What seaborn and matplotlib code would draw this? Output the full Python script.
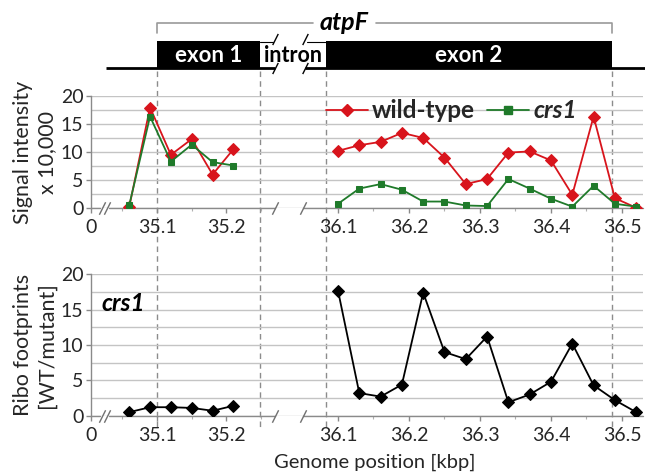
import numpy as np
import pandas as pd
import matplotlib
matplotlib.use("Agg")
import matplotlib.pyplot as plt
import seaborn as sns
from matplotlib.lines import Line2D
from matplotlib.patches import Rectangle
from matplotlib import transforms as mtrans
from matplotlib.ticker import MultipleLocator, FixedLocator

# ---------------- data ----------------
left_pos = [35.06, 35.09, 35.12, 35.15, 35.18, 35.21]
right_pos = [36.10, 36.13, 36.16, 36.19, 36.22, 36.25, 36.28, 36.31,
             36.34, 36.37, 36.40, 36.43, 36.46, 36.49, 36.52]

wt_left = [0.2, 17.9, 9.5, 12.3, 6.0, 10.5]
crs1_left = [0.5, 16.3, 8.3, 11.3, 8.2, 7.6]
wt_right = [10.2, 11.2, 11.8, 13.4, 12.5, 9.0, 4.3, 5.2, 9.9, 10.1, 8.5, 2.4, 16.3, 1.8, 0.1]
crs1_right = [0.8, 3.5, 4.3, 3.3, 1.2, 1.2, 0.5, 0.4, 5.2, 3.5, 1.7, 0.3, 4.0, 0.8, 0.3]

ribo_left = [0.5, 1.2, 1.2, 1.1, 0.7, 1.4]
ribo_right = [17.7, 3.2, 2.7, 4.4, 17.4, 9.0, 8.0, 11.2, 1.9, 3.0, 4.8, 10.2, 4.3, 2.2, 0.5]

x_ticks = [0, 35.1, 35.2, 36.1, 36.2, 36.3, 36.4, 36.5]
x_ticklabels = ["0", "35.1", "35.2", "36.1", "36.2", "36.3", "36.4", "36.5"]
x_minor = [35.05, 35.15, 35.25, 36.15, 36.25, 36.35, 36.45]
y_ticks = [0, 5, 10, 15, 20]

# gene model (kbp)
exon1 = (35.100, 35.248)
exon2 = (36.083, 36.486)

rows = []
for seg, pos, vals, name in [("L", left_pos, wt_left, "wild-type"),
                             ("R", right_pos, wt_right, "wild-type"),
                             ("L", left_pos, crs1_left, "crs1"),
                             ("R", right_pos, crs1_right, "crs1"),
                             ("L", left_pos, ribo_left, "ribo"),
                             ("R", right_pos, ribo_right, "ribo")]:
    for p, v in zip(pos, vals):
        rows.append({"pos": p, "value": v, "series": name, "segment": seg})
df = pd.DataFrame(rows)

# ---------------- style ----------------
sns.set_theme(style="white")
plt.rcParams['font.family'] = ['Lato', 'DejaVu Sans']

RED = "#d8141c"
GREEN = "#1f7a2a"
GRID = "#c4c4c4"
AXC = "#8a8a8a"
TXT = "#262626"

# broken x axis: genome position (kbp) -> pixel column
BRK_X = [-1000.0, 0.0, 35.0353, 35.2856, 36.0324, 36.5296, 1000.0]
BRK_U = [91.0 - 1000.0 * 0.6, 91.0, 112.0, 286.0, 290.0, 643.0, 643.0 + (1000.0 - 36.5296) * 710]


def fwd(x):
    return np.interp(np.asarray(x, dtype=float), BRK_X, BRK_U)


def inv(u):
    return np.interp(np.asarray(u, dtype=float), BRK_U, BRK_X)


XMIN, XMAX = 0.0, 36.5296
W, H = 645, 472

fig = plt.figure(figsize=(6.45, 4.72), dpi=100)
fig.patch.set_facecolor("white")


def px_axes(x0, x1, ytop, ybot):
    return fig.add_axes([x0 / W, 1 - ybot / H, (x1 - x0) / W, (ybot - ytop) / H])


ax_top = px_axes(91, 643, 95.7, 208.3)
ax_bot = px_axes(91, 643, 274.3, 415.7)
ax_g = px_axes(91, 643, 15, 92)

for ax in (ax_top, ax_bot, ax_g):
    ax.set_xscale("function", functions=(fwd, inv))
    ax.set_facecolor("none")


def style_axes(ax):
    ax.set_xlim(XMIN, XMAX)
    ax.set_ylim(0, 20)
    ax.yaxis.set_major_locator(FixedLocator(y_ticks))
    ax.yaxis.set_minor_locator(MultipleLocator(2.5))
    ax.grid(False)
    ax.grid(axis="y", which="both", color=GRID, lw=1.0, zorder=0)
    ax.set_axisbelow(True)
    ax.xaxis.set_major_locator(FixedLocator(x_ticks))
    ax.set_xticklabels(x_ticklabels)
    ax.xaxis.set_minor_locator(FixedLocator(x_minor))
    ax.tick_params(axis="y", which="major", direction="out", length=3.5, width=1,
                   color=AXC, labelsize=14, labelcolor=TXT, pad=2, left=True)
    ax.tick_params(axis="y", which="minor", length=0)
    ax.tick_params(axis="x", which="major", direction="out", length=3.5, width=1,
                   color=AXC, labelsize=14, labelcolor=TXT, pad=4.5, bottom=True)
    ax.tick_params(axis="x", which="minor", direction="out", length=2.5, width=0.8,
                   color="#b0b0b0", bottom=True)
    for s in ("top", "right", "bottom"):
        ax.spines[s].set_visible(False)
    ax.spines["left"].set_color(AXC)
    ax.spines["left"].set_linewidth(1)
    ax.set_xlabel("")
    ax.set_ylabel("")
    # broken x-axis line
    for a, b in [(0, inv(100)), (inv(109), inv(275)), (inv(303), XMAX)]:
        ax.plot([a, b], [0, 0], color=AXC, lw=1, clip_on=False, zorder=1.5)
    for u in (102, 107, 275, 303):
        ax.plot([inv(u)], [0], ls="none", marker=[(-1, -2.0), (1, 2.0)], ms=9,
                mew=1, mec="#707070", clip_on=False, zorder=1.6)


# ---------------- top panel ----------------
for name, col, mk, ms in [("wild-type", RED, "D", 6), ("crs1", GREEN, "s", 4.8)]:
    for seg in ("L", "R"):
        d = df[(df.series == name) & (df.segment == seg)]
        sns.lineplot(data=d, x="pos", y="value", ax=ax_top, color=col, marker=mk,
                     markersize=ms, markeredgecolor=col, lw=1.3, estimator=None,
                     legend=False, zorder=3)
style_axes(ax_top)

handles = [Line2D([], [], color=RED, marker="D", ms=6.5, mec=RED, lw=1.3),
           Line2D([], [], color=GREEN, marker="s", ms=5.2, mec=GREEN, lw=1.3)]
leg = ax_top.legend(handles, ["wild-type", "crs1"], loc="center left",
                    bbox_to_anchor=(0.425, 0.865), ncol=2, frameon=False,
                    prop={"weight": "bold", "size": 17.5}, handlelength=1.75,
                    handletextpad=0.15, columnspacing=0.5, borderpad=0, borderaxespad=0)
leg.get_texts()[1].set_fontstyle("italic")

# ---------------- bottom panel ----------------
for seg in ("L", "R"):
    d = df[(df.series == "ribo") & (df.segment == seg)]
    sns.lineplot(data=d, x="pos", y="value", ax=ax_bot, color="black", marker="D",
                 markersize=6, markeredgecolor="black", lw=1.3, estimator=None,
                 legend=False, zorder=3)
style_axes(ax_bot)
ax_bot.text(inv(101), 15.8, "crs1", fontsize=17.5, fontweight="bold", fontstyle="italic",
            color="black", ha="left", va="center")

# ---------------- gene model ----------------
ax_g.set_xlim(XMIN, XMAX)
ax_g.set_ylim(92, 15)
ax_g.axis("off")
ax_g.plot([inv(106), inv(275)], [68, 68], color="black", lw=2, clip_on=False, solid_capstyle="butt")
ax_g.plot([inv(305), inv(646)], [68, 68], color="black", lw=2, clip_on=False, solid_capstyle="butt")
ax_g.plot([exon1[1], inv(273)], [41.5, 41.5], color="black", lw=0.8, clip_on=False)
ax_g.plot([inv(307), exon2[0]], [41.5, 41.5], color="black", lw=0.8, clip_on=False)
for u, yy in [(275, 68), (305, 68), (275, 39), (305, 39)]:
    ax_g.plot([inv(u)], [yy], ls="none", marker=[(-1, -2.0), (1, 2.0)], ms=8,
              mew=1, mec="black", clip_on=False)
for (a, b) in (exon1, exon2):
    ax_g.add_patch(Rectangle((a, 41), b - a, 27, facecolor="black", edgecolor="none"))
ax_g.text((exon1[0] + exon1[1]) / 2, 55, "exon 1", color="white", fontsize=16,
          fontweight="bold", ha="center", va="center")
ax_g.text((exon2[0] + exon2[1]) / 2, 55, "exon 2", color="white", fontsize=16,
          fontweight="bold", ha="center", va="center")
ax_g.text(inv((fwd(exon1[1]) + fwd(exon2[0])) / 2), 55, "intron", color="black",
          fontsize=15.5, fontweight="bold", ha="center", va="center")
BRC = "#9a9a9a"
ax_g.plot([exon1[0], exon1[0], inv(313)], [33, 23, 23], color=BRC, lw=1.2, clip_on=False)
ax_g.plot([inv(376), exon2[1], exon2[1]], [23, 23, 33], color=BRC, lw=1.2, clip_on=False)
ax_g.text(inv(344), 22, "atpF", fontsize=18, fontweight="bold", fontstyle="italic",
          ha="center", va="center", color="black")

# dashed guide lines across panels
blend = mtrans.blended_transform_factory(ax_top.transData, fig.transFigure)
for xv in (exon1[0], exon1[1], exon2[0], exon2[1]):
    fig.add_artist(Line2D([xv, xv], [1 - 71 / H, 1 - 430 / H], transform=blend,
                          color="#8c8c8c", lw=1, ls=(0, (4, 3)), zorder=-1))

# axis titles
fig.text(35 / W, 1 - 152 / H, "Signal intensity\nx 10,000", rotation=90, ha="center",
         va="center", fontsize=15.5, color=TXT, linespacing=1.2, multialignment="center")
fig.text(35 / W, 1 - 345 / H, "Ribo footprints\n[WT/mutant]", rotation=90, ha="center",
         va="center", fontsize=15.5, color=TXT, linespacing=1.2, multialignment="center")
fig.text(375 / W, 1 - 462 / H, "Genome position [kbp]", ha="center", va="center",
         fontsize=14.5, color=TXT)

fig.savefig("out.png", dpi=100, facecolor="white")
